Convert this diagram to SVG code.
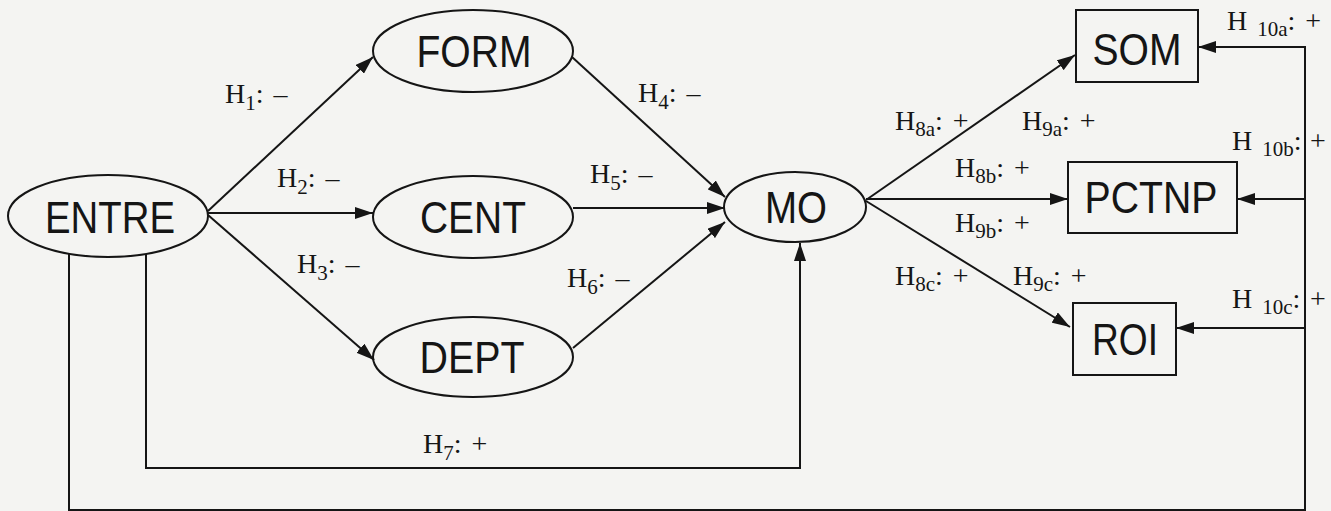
<svg xmlns="http://www.w3.org/2000/svg" width="1331" height="511" viewBox="0 0 1331 511">
  <defs>
    <marker id="arrow" viewBox="0 0 18 12" refX="18" refY="6" markerWidth="18" markerHeight="12" markerUnits="userSpaceOnUse" orient="auto">
      <path d="M0,0 L18,6 L0,12 Z" fill="#151515"/>
    </marker>
    <style>
      .node ellipse, .node rect { fill: none; stroke: #151515; stroke-width: 2; }
      .node text { font-family: "Liberation Sans", Arial, sans-serif; font-size: 45px; fill: #151515; text-anchor: middle; }
      .edge { fill: none; stroke: #151515; stroke-width: 2; }
      .edge.arr { marker-end: url(#arrow); }
      .lbl { font-family: "Liberation Serif", "Times New Roman", serif; font-size: 28px; fill: #151515; word-spacing: 3px; }
      .lbl .sub { font-size: 21px; }
    </style>
  </defs>

  <rect x="0" y="0" width="1331" height="511" fill="#f4f4f2"/>

  <!-- connectors -->
  <g id="connectors">
    <path class="edge arr" d="M208,211 L373,57"/>
    <path class="edge arr" d="M208,213 L373,213"/>
    <path class="edge arr" d="M208,215 L374,360"/>
    <path class="edge arr" d="M572,57 L725,197"/>
    <path class="edge arr" d="M573,208 L725,208"/>
    <path class="edge arr" d="M573,348 L725,222"/>
    <path class="edge arr" d="M146,254 V468 H800 V243"/>
    <path class="edge arr" d="M866,200 L1075,55"/>
    <path class="edge arr" d="M866,199 L1068,199"/>
    <path class="edge arr" d="M866,201 L1070,327"/>
    <path class="edge arr" d="M69,254 V510 H1305 V47 H1198"/>
    <path class="edge arr" d="M1305,199 H1237"/>
    <path class="edge arr" d="M1305,328 H1176"/>
  </g>

  <!-- nodes -->
  <g id="ENTRE" class="node">
    <ellipse cx="108" cy="216" rx="100" ry="41"/>
    <text x="110" y="233" textLength="130" lengthAdjust="spacingAndGlyphs">ENTRE</text>
  </g>
  <g id="FORM" class="node">
    <ellipse cx="473" cy="51" rx="100" ry="41"/>
    <text x="474" y="67" textLength="115" lengthAdjust="spacingAndGlyphs">FORM</text>
  </g>
  <g id="CENT" class="node">
    <ellipse cx="473" cy="217" rx="100" ry="41"/>
    <text x="473" y="233" textLength="106" lengthAdjust="spacingAndGlyphs">CENT</text>
  </g>
  <g id="DEPT" class="node">
    <ellipse cx="473" cy="357" rx="100" ry="40"/>
    <text x="472" y="373" textLength="105" lengthAdjust="spacingAndGlyphs">DEPT</text>
  </g>
  <g id="MO" class="node">
    <ellipse cx="795" cy="207" rx="71" ry="35"/>
    <text x="796" y="223" textLength="62" lengthAdjust="spacingAndGlyphs">MO</text>
  </g>
  <g id="SOM" class="node">
    <rect x="1076" y="10" width="122" height="72"/>
    <text x="1137" y="65" textLength="89" lengthAdjust="spacingAndGlyphs">SOM</text>
  </g>
  <g id="PCTNP" class="node">
    <rect x="1068" y="162" width="169" height="71"/>
    <text x="1151" y="213" textLength="133" lengthAdjust="spacingAndGlyphs">PCTNP</text>
  </g>
  <g id="ROI" class="node">
    <rect x="1073" y="303" width="103" height="72"/>
    <text x="1125" y="355" textLength="66" lengthAdjust="spacingAndGlyphs">ROI</text>
  </g>

  <!-- hypothesis labels -->
  <g id="labels">
    <text class="lbl" x="225" y="103">H<tspan class="sub" dy="7">1</tspan><tspan dy="-7">: –</tspan></text>
    <text class="lbl" x="277" y="187">H<tspan class="sub" dy="7">2</tspan><tspan dy="-7">: –</tspan></text>
    <text class="lbl" x="297" y="273">H<tspan class="sub" dy="7">3</tspan><tspan dy="-7">: –</tspan></text>
    <text class="lbl" x="638" y="102">H<tspan class="sub" dy="7">4</tspan><tspan dy="-7">: –</tspan></text>
    <text class="lbl" x="590" y="183">H<tspan class="sub" dy="7">5</tspan><tspan dy="-7">: –</tspan></text>
    <text class="lbl" x="567" y="287">H<tspan class="sub" dy="7">6</tspan><tspan dy="-7">: –</tspan></text>
    <text class="lbl" x="423" y="453">H<tspan class="sub" dy="7">7</tspan><tspan dy="-7">: +</tspan></text>
    <text class="lbl" x="895" y="130">H<tspan class="sub" dy="6">8a</tspan><tspan dy="-6">: +</tspan></text>
    <text class="lbl" x="1022" y="130">H<tspan class="sub" dy="6">9a</tspan><tspan dy="-6">: +</tspan></text>
    <text class="lbl" x="955" y="177">H<tspan class="sub" dy="6">8b</tspan><tspan dy="-6">: +</tspan></text>
    <text class="lbl" x="955" y="232">H<tspan class="sub" dy="6">9b</tspan><tspan dy="-6">: +</tspan></text>
    <text class="lbl" x="895" y="285">H<tspan class="sub" dy="6">8c</tspan><tspan dy="-6">: +</tspan></text>
    <text class="lbl" x="1013" y="285">H<tspan class="sub" dy="6">9c</tspan><tspan dy="-6">: +</tspan></text>
    <text class="lbl" x="1227" y="30">H <tspan class="sub" dy="6">10a</tspan><tspan dy="-6">: +</tspan></text>
    <text class="lbl" x="1232" y="150">H <tspan class="sub" dy="6">10b</tspan><tspan dy="-6">:</tspan><tspan x="1310">+</tspan></text>
    <text class="lbl" x="1232" y="308">H <tspan class="sub" dy="6">10c</tspan><tspan dy="-6">:</tspan><tspan x="1310">+</tspan></text>
  </g>
</svg>
